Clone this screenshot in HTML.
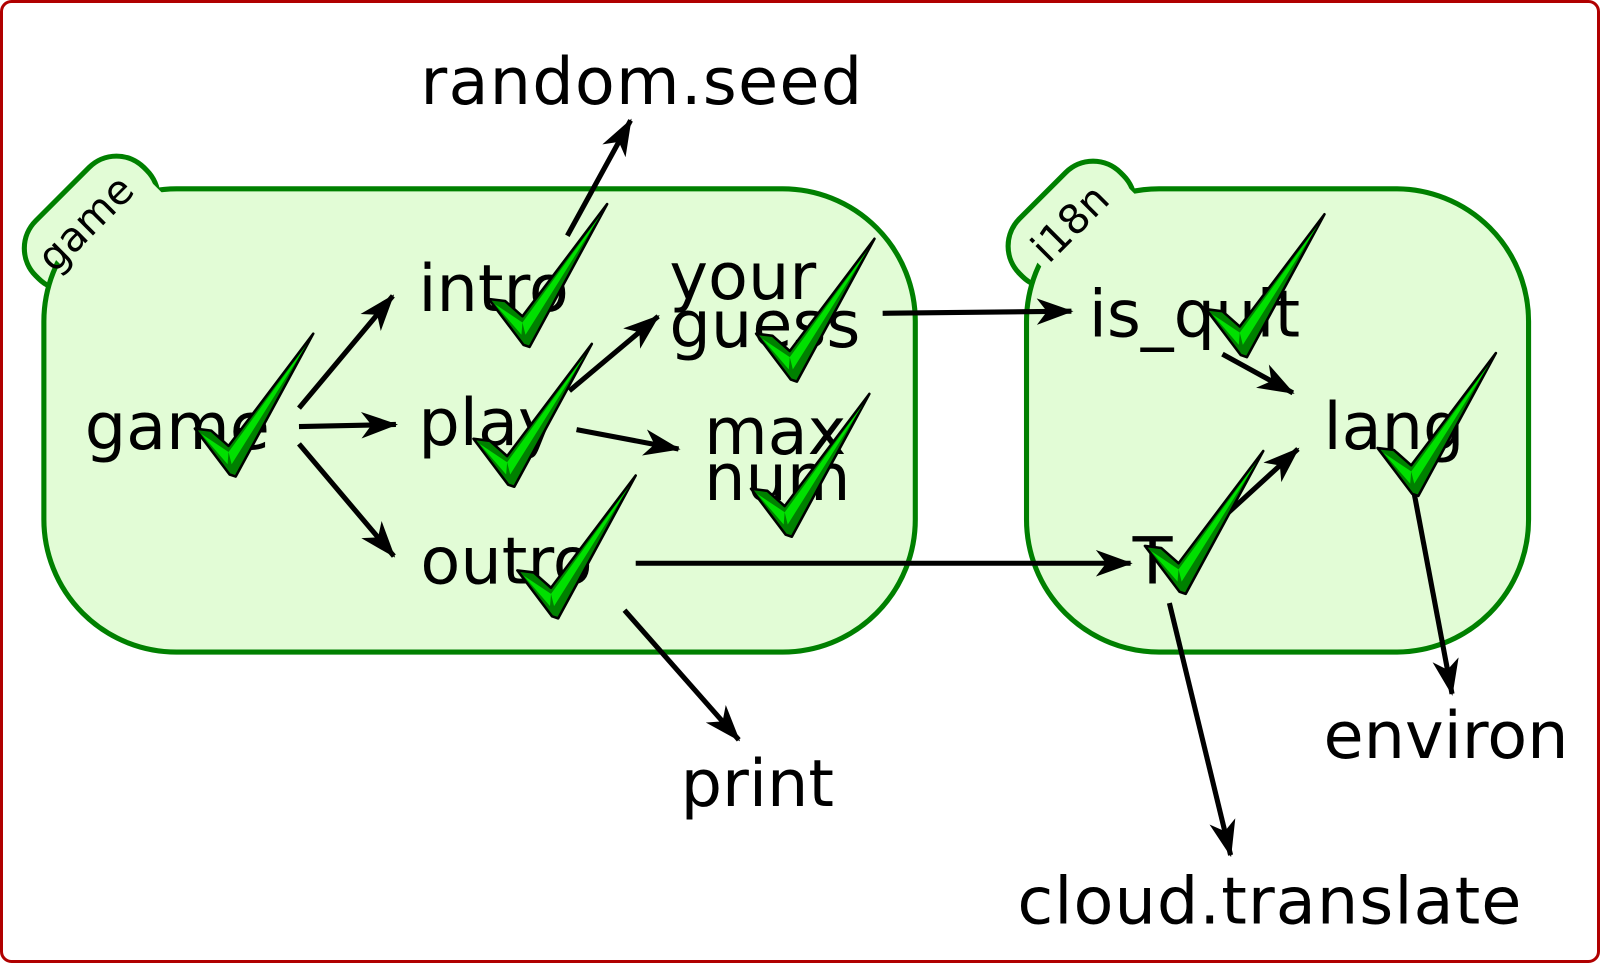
<!DOCTYPE html>
<html><head><meta charset="utf-8"><style>html,body{margin:0;padding:0;background:#fff}svg{display:block}</style></head><body>
<svg width="1600" height="963" viewBox="0 0 1600 963" xmlns="http://www.w3.org/2000/svg" font-family="'DejaVu Sans','Liberation Sans',sans-serif">
<defs>
<marker id="a" viewBox="0 0 36 26" refX="34" refY="13" markerWidth="36" markerHeight="26" markerUnits="userSpaceOnUse" orient="auto">
<path d="M0,0 L36,13 L0,26 L10,13 Z" fill="#000"/></marker>
<g id="ck">
<path d="M-36,-45 L-20,-43 L-3,-28 L80,-138 L4,2 L-2,0 Z" fill="#008000" stroke="#000" stroke-width="2.5" stroke-linejoin="round"/>
<path d="M-30,-40 L-4,-10 L-3,-22 Z M-3,-22 L74,-128 L0,-10 Z" fill="#00e000"/>
</g>
</defs>
<rect x="1.5" y="1.5" width="1597" height="960" rx="10" fill="#fff" stroke="#b00000" stroke-width="3"/>
<g transform="scale(1.0204)">
<g transform="rotate(-45 88 220)"><rect x="15" y="180" width="150" height="80" rx="38" fill="#e2fcd6" stroke="#008000" stroke-width="5"/></g>
<rect x="43" y="185" width="854" height="454" rx="130" fill="#e2fcd6" stroke="#008000" stroke-width="5"/>
<g transform="rotate(-45 88 220)"><rect x="40" y="205" width="120" height="55" fill="#e2fcd6"/></g>
<text x="85" y="232" font-size="40" text-anchor="middle" transform="rotate(-45 85 220)">game</text>
<g transform="rotate(-45 1050 220)"><rect x="980" y="180" width="140" height="80" rx="38" fill="#e2fcd6" stroke="#008000" stroke-width="5"/></g>
<rect x="1006" y="185" width="492" height="454" rx="130" fill="#e2fcd6" stroke="#008000" stroke-width="5"/>
<g transform="rotate(-45 1050 220)"><rect x="1000" y="205" width="115" height="55" fill="#e2fcd6"/></g>
<text x="1050" y="232" font-size="40" text-anchor="middle" transform="rotate(-45 1050 220)">i18n</text>
<g stroke="#000" stroke-width="5" fill="none" marker-end="url(#a)">
<line x1="293" y1="400" x2="385" y2="290"/>
<line x1="293" y1="418" x2="388" y2="416"/>
<line x1="293" y1="435" x2="386" y2="545"/>
<line x1="556" y1="231" x2="618" y2="118"/>
<line x1="558" y1="383" x2="645" y2="310"/>
<line x1="565" y1="421" x2="665" y2="440"/>
<line x1="865" y1="307" x2="1050" y2="305"/>
<line x1="623" y1="552" x2="1108" y2="552"/>
<line x1="612" y1="598" x2="724" y2="725"/>
<line x1="1198" y1="347" x2="1267" y2="385"/>
<line x1="1190" y1="515" x2="1272" y2="440"/>
<line x1="1146" y1="591" x2="1206" y2="838"/>
<line x1="1386" y1="484" x2="1423" y2="680"/>
</g>
<g font-size="64" fill="#000">
<text x="412" y="102" textLength="433">random.seed</text>
<text x="410" y="305">intro</text>
<text x="656" y="293">your</text>
<text x="656" y="340">guess</text>
<text x="83" y="440">game</text>
<text x="410" y="436">play</text>
<text x="690" y="445">max</text>
<text x="690" y="490">num</text>
<text x="412" y="572">outro</text>
<text x="1067" y="330">is_quit</text>
<text x="1297" y="440">lang</text>
<text x="1110" y="572">T</text>
<text x="667" y="790">print</text>
<text x="1297" y="743">environ</text>
<text x="997" y="905" textLength="494">cloud.translate</text>
</g>
<use href="#ck" x="227" y="465"/>
<use href="#ck" x="515" y="338"/>
<use href="#ck" x="500" y="475"/>
<use href="#ck" x="777" y="372"/>
<use href="#ck" x="772" y="524"/>
<use href="#ck" x="543" y="604"/>
<use href="#ck" x="1218" y="348"/>
<use href="#ck" x="1386" y="484"/>
<use href="#ck" x="1158" y="580"/>
</g>
</svg>
</body></html>
